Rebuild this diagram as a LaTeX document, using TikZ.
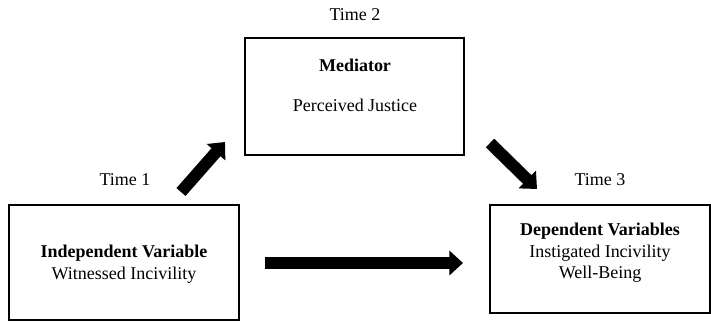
\documentclass[tikz,border=0pt]{standalone}
\usepackage{fontspec}
\setmainfont{Liberation Serif}
\usetikzlibrary{arrows.meta, calc, positioning}
\tikzset{
  vbox/.style args={#1/#2}{
    rectangle, draw=black, line width=1.8pt,
    minimum width=#1, minimum height=#2, inner sep=0pt,
  },
  txt/.style={
    font=\fontsize{12.8}{15.3}\selectfont, align=center, inner sep=1pt,
  },
  fatarr/.style={
    -{Triangle[length=0.34cm,width=0.6cm]},
    line width=0.3cm, color=black,
  },
}
\begin{document}
\begin{tikzpicture}[x=1cm,y=1cm]
    \useasboundingbox (0,0) rectangle (17.775,8.05);
    \node[vbox=5.75cm/2.875cm] (indep) at (3.1,1.4875)   {};
    \node[vbox=5.475cm/2.925cm](med)   at (8.8625,5.6375) {};
    \node[vbox=5.5cm/2.7cm]    (dep)   at (15.0,1.575)   {};

    \node[txt] (indeptxt) at (3.1,1.45)   {\textbf{Independent Variable}\\Witnessed Incivility};
    \node[txt] (medtxt)   at (8.875,5.925) {\textbf{Mediator}\\[13pt]Perceived Justice};
    \node[txt] (deptxt)   at (15.0,1.725)  {\textbf{Dependent Variables}\\Instigated Incivility\\Well-Being};

    \node[txt] (time1) at (3.125,3.55) {Time 1};
    \node[txt] (time2) at (8.875,7.675) {Time 2};
    \node[txt] (time3) at (15.0,3.55)  {Time 3};

    % arrow ends off the boxes
    \coordinate (upS)   at (4.525,3.25);
    \coordinate (upE)   at (5.625,4.5);
    \coordinate (downS) at (12.25,4.475);
    \coordinate (downE) at (13.425,3.325);
    \coordinate (hS)    at (6.625,1.475);
    \coordinate (hE)    at (11.575,1.475);

    \draw[fatarr] (upS)--(upE);
    \draw[fatarr] (downS)--(downE);
    \draw[fatarr] (hS)--(hE);
\end{tikzpicture}
\end{document}
